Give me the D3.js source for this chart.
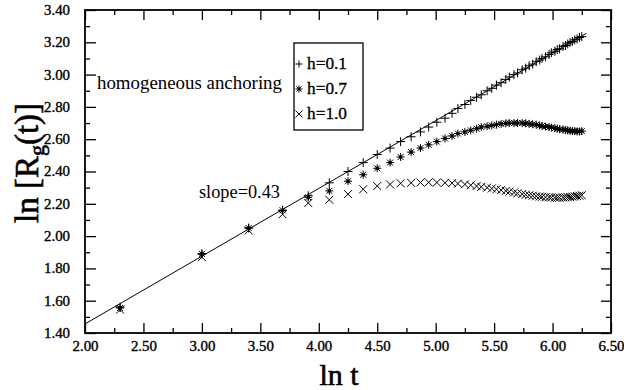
<!DOCTYPE html>
<html>
<head>
<meta charset="utf-8">
<script src="https://cdn.jsdelivr.net/npm/d3@7"></script>
<style>
  html, body { margin: 0; padding: 0; background: #fff; }
  svg { display: block; }
  text { font-family: "Liberation Serif", "DejaVu Serif", serif; fill: #000; }
</style>
</head>
<body>
<div id="chart"></div>
<script>
// ln t for t = 10, 20, ..., 520
const lnT = [2.30, 3.00, 3.40, 3.69, 3.91, 4.09, 4.25, 4.38, 4.50, 4.61,
  4.70, 4.79, 4.87, 4.94, 5.01, 5.08, 5.14, 5.19, 5.25, 5.30,
  5.35, 5.39, 5.44, 5.48, 5.52, 5.56, 5.60, 5.63, 5.67, 5.70,
  5.74, 5.77, 5.80, 5.83, 5.86, 5.89, 5.91, 5.94, 5.97, 5.99,
  6.02, 6.04, 6.06, 6.09, 6.11, 6.13, 6.15, 6.17, 6.19, 6.21,
  6.23, 6.25];

const h01 = [1.56, 1.89, 2.05, 2.16, 2.25, 2.33, 2.40, 2.455, 2.505, 2.545,
  2.585, 2.615, 2.645, 2.675, 2.705, 2.73, 2.76, 2.79, 2.815, 2.84,
  2.86, 2.875, 2.90, 2.915, 2.935, 2.95, 2.97, 2.985, 3.00, 3.01,
  3.03, 3.04, 3.055, 3.065, 3.08, 3.09, 3.10, 3.11, 3.125, 3.135,
  3.145, 3.155, 3.16, 3.175, 3.18, 3.19, 3.20, 3.205, 3.215, 3.22,
  3.23, 3.235];

const h07 = [1.555, 1.89, 2.05, 2.16, 2.24, 2.28, 2.34, 2.38, 2.42, 2.455,
  2.49, 2.52, 2.545, 2.565, 2.585, 2.605, 2.62, 2.635, 2.645, 2.655,
  2.665, 2.675, 2.68, 2.685, 2.69, 2.695, 2.698, 2.70, 2.70, 2.70,
  2.70, 2.698, 2.695, 2.692, 2.69, 2.685, 2.682, 2.678, 2.675, 2.672,
  2.668, 2.665, 2.662, 2.66, 2.657, 2.655, 2.652, 2.65, 2.65, 2.648,
  2.648, 2.65];

const h10 = [1.545, 1.87, 2.035, 2.135, 2.205, 2.225, 2.26, 2.29, 2.31, 2.32,
  2.327, 2.33, 2.332, 2.333, 2.332, 2.33, 2.328, 2.325, 2.32, 2.315,
  2.31, 2.305, 2.30, 2.295, 2.29, 2.285, 2.28, 2.275, 2.27, 2.265,
  2.26, 2.256, 2.253, 2.25, 2.247, 2.245, 2.243, 2.241, 2.24, 2.239,
  2.238, 2.238, 2.238, 2.239, 2.24, 2.241, 2.242, 2.244, 2.246, 2.248,
  2.25, 2.253];

// fitted straight line, slope ~0.43
const fitX = [2.00, 6.29];
const fitY = [1.456, 3.256];

const xTicks = [2.0, 2.5, 3.0, 3.5, 4.0, 4.5, 5.0, 5.5, 6.0, 6.5];
const yTicks = [1.4, 1.6, 1.8, 2.0, 2.2, 2.4, 2.6, 2.8, 3.0, 3.2, 3.4];

const seriesNames = ["h=0.1", "h=0.7", "h=1.0"];
const seriesShapes = ["plus", "star", "cross"];
const seriesValues = [h01, h07, h10];

const W = 624, H = 390;
const pLeft = 85, pRight = 611, pTop = 10, pBottom = 333;

const svg = d3.select("#chart").append("svg")
    .attr("width", W)
    .attr("height", H);

const x = d3.scaleLinear().domain([2.0, 6.5]).range([pLeft, pRight]);
const y = d3.scaleLinear().domain([1.4, 3.4]).range([pBottom, pTop]);

function styleAxis(g) {
    g.select(".domain").remove();
    g.selectAll(".tick line").attr("stroke", "#000").attr("stroke-width", 1.3);
}

// minor ticks
const xMinor = d3.range(2.25, 6.5, 0.5);
const yMinor = d3.range(1.5, 3.4, 0.2);

svg.append("g").attr("transform", `translate(0,${pBottom})`)
    .call(d3.axisBottom(x).tickValues(xMinor).tickSize(-5).tickFormat(""))
    .call(styleAxis);
svg.append("g").attr("transform", `translate(0,${pTop})`)
    .call(d3.axisTop(x).tickValues(xMinor).tickSize(-5).tickFormat(""))
    .call(styleAxis);
svg.append("g").attr("transform", `translate(${pLeft},0)`)
    .call(d3.axisLeft(y).tickValues(yMinor).tickSize(-5).tickFormat(""))
    .call(styleAxis);
svg.append("g").attr("transform", `translate(${pRight},0)`)
    .call(d3.axisRight(y).tickValues(yMinor).tickSize(-5).tickFormat(""))
    .call(styleAxis);

// major ticks
const xAxis = svg.append("g").attr("transform", `translate(0,${pBottom})`)
    .call(d3.axisBottom(x).tickValues(xTicks).tickSize(-10).tickPadding(8)
        .tickFormat(d3.format(".2f")))
    .call(styleAxis);
svg.append("g").attr("transform", `translate(0,${pTop})`)
    .call(d3.axisTop(x).tickValues(xTicks).tickSize(-10).tickFormat(""))
    .call(styleAxis);
const yAxis = svg.append("g").attr("transform", `translate(${pLeft},0)`)
    .call(d3.axisLeft(y).tickValues(yTicks).tickSize(-11).tickPadding(15)
        .tickFormat(d3.format(".2f")))
    .call(styleAxis);
svg.append("g").attr("transform", `translate(${pRight},0)`)
    .call(d3.axisRight(y).tickValues(yTicks).tickSize(-10).tickFormat(""))
    .call(styleAxis);

[xAxis, yAxis].forEach(a => {
    a.selectAll(".tick text")
        .style("font-family", "'Liberation Serif', serif")
        .style("font-size", "14px")
        .attr("fill", "#000")
        .attr("stroke", "#000")
        .attr("stroke-width", 0.35)
        .attr("textLength", 26)
        .attr("lengthAdjust", "spacingAndGlyphs");
});

// frame
svg.append("rect")
    .attr("x", pLeft).attr("y", pTop)
    .attr("width", pRight - pLeft).attr("height", pBottom - pTop)
    .attr("fill", "none").attr("stroke", "#000").attr("stroke-width", 1.8);

// fit line
svg.append("path")
    .datum(fitX.map((d, i) => [d, fitY[i]]))
    .attr("fill", "none")
    .attr("stroke", "#000")
    .attr("stroke-width", 1)
    .attr("d", d3.line().x(d => x(d[0])).y(d => y(d[1])));

// marker shapes
function markerPath(shape, s) {
    const r = s / 2;
    if (shape === "plus") {
        return `M${-r},0L${r},0M0,${-r}L0,${r}`;
    }
    if (shape === "cross") {
        return `M${-r},${-r}L${r},${r}M${-r},${r}L${r},${-r}`;
    }
    // asterisk: 4 strokes
    const d = r * 0.75;
    return `M${-r},0L${r},0M0,${-r}L0,${r}M${-d},${-d}L${d},${d}M${-d},${d}L${d},${-d}`;
}

const sizes = { plus: 9, star: 8, cross: 8 };

seriesValues.forEach((vals, si) => {
    const shape = seriesShapes[si];
    const g = svg.append("g").attr("class", "series-" + si);
    g.selectAll("path")
        .data(vals.map((v, i) => [lnT[i], v]))
        .join("path")
        .attr("transform", d => `translate(${x(d[0])},${y(d[1])})`)
        .attr("d", markerPath(shape, sizes[shape]))
        .attr("fill", "none")
        .attr("stroke", "#000")
        .attr("stroke-width", 1);
    if (shape === "star") {
        g.selectAll("circle")
            .data(vals.map((v, i) => [lnT[i], v]))
            .join("circle")
            .attr("cx", d => x(d[0]))
            .attr("cy", d => y(d[1]))
            .attr("r", 1.8)
            .attr("fill", "#000");
    }
});

// legend
const legend = svg.append("g");
legend.append("rect")
    .attr("x", 294).attr("y", 43)
    .attr("width", 69).attr("height", 87)
    .attr("fill", "#fff").attr("stroke", "#000").attr("stroke-width", 1.3);

seriesNames.forEach((name, i) => {
    const cy = 64 + i * 25;
    legend.append("path")
        .attr("transform", `translate(299,${cy})`)
        .attr("d", markerPath(seriesShapes[i], 7))
        .attr("fill", "none").attr("stroke", "#000").attr("stroke-width", 1);
    if (seriesShapes[i] === "star") {
        legend.append("circle").attr("cx", 299).attr("cy", cy).attr("r", 1.4).attr("fill", "#000");
    }
    legend.append("text")
        .attr("x", 307).attr("y", cy + 5)
        .style("font-size", "16px")
        .attr("stroke", "#000")
        .attr("stroke-width", 0.3)
        .attr("textLength", 40)
        .attr("lengthAdjust", "spacingAndGlyphs")
        .text(name);
});

// annotations
svg.append("text")
    .attr("x", 97).attr("y", 89)
    .style("font-size", "18px")
    .attr("textLength", 185)
    .attr("lengthAdjust", "spacingAndGlyphs")
    .text("homogeneous anchoring");

svg.append("text")
    .attr("x", 199).attr("y", 198)
    .style("font-size", "18px")
    .attr("textLength", 81)
    .attr("lengthAdjust", "spacingAndGlyphs")
    .text("slope=0.43");

// axis titles
svg.append("text")
    .attr("x", 339).attr("y", 385)
    .attr("text-anchor", "middle")
    .style("font-size", "30px")
    .attr("stroke", "#000")
    .attr("stroke-width", 0.6)
    .text("ln t");

const yt = svg.append("text")
    .attr("transform", "translate(38,163) rotate(-90)")
    .attr("text-anchor", "middle")
    .style("font-size", "33px")
    .attr("stroke", "#000")
    .attr("stroke-width", 0.6);
yt.append("tspan").text("ln [R");
yt.append("tspan").attr("dy", 6).style("font-size", "22px").text("g");
yt.append("tspan").attr("dy", -6).text("(t)]");
</script>
</body>
</html>
